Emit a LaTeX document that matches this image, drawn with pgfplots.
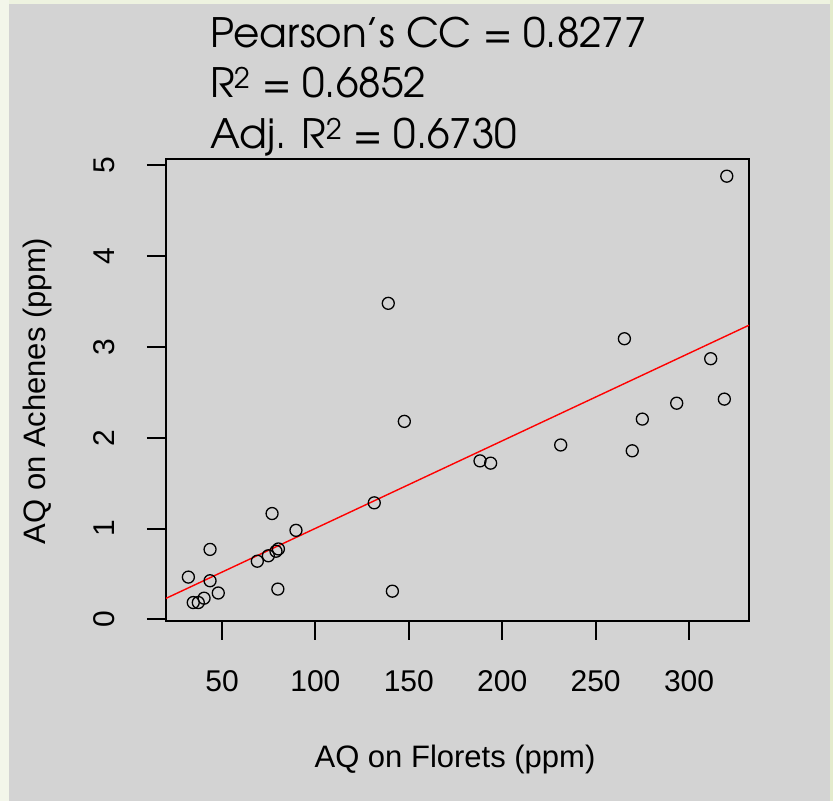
\documentclass[border=0pt]{standalone}
\usepackage{fontspec}
\setmainfont{Liberation Sans}
\newfontfamily\titlefont{TeX Gyre Adventor}
\usepackage{pgfplots}
\pgfplotsset{compat=1.18}
\definecolor{bggray}{HTML}{D3D3D3}
\definecolor{leftstrip}{HTML}{F3F6EA}
\definecolor{topstrip}{HTML}{EEF3E0}
\definecolor{rightstrip}{HTML}{E3EBCC}
\begin{document}
\begin{tikzpicture}[x=1pt,y=1pt]
\path[use as bounding box] (0,0) rectangle (833,801);
\fill[leftstrip] (0,0) rectangle (833,801);
\fill[topstrip] (9,797) rectangle (833,801);
\fill[rightstrip] (830,0) rectangle (833,801);
\fill[bggray] (9,0) rectangle (830,797);
\begin{axis}[
  at={(166pt,180.3pt)}, anchor=south west, scale only axis,
  width=583pt, height=461.4pt,
  xmin=20.02, xmax=332.1, ymin=-0.015, ymax=5.066,
  axis line style={line width=2pt, black},
  xtick={50,100,150,200,250,300}, ytick={0,1,2,3,4,5},
  xtick pos=left, ytick pos=left,
  tick align=outside, major tick length=19pt,
  every tick/.style={black, line width=2pt},
  /pgf/number format/assume math mode=true,
  ticklabel style={font=\fontsize{30}{36}\selectfont},
  xticklabel style={anchor=base, yshift=-51.3pt},
  yticklabel style={xshift=-32pt, rotate=90, anchor=base},
  xlabel={AQ on Florets (ppm)},
  ylabel={AQ on Achenes (ppm)},
  label style={font=\fontsize{31}{37}\selectfont},
  xlabel style={at={(axis description cs:0.4957,-0.3177)}, anchor=base},
  ylabel style={at={(axis description cs:-0.2075,0.4978)}, anchor=base},
  clip=true,
]
\addplot[only marks, mark=o, mark size=6pt, mark options={line width=1.3pt, black}] table {
x y
139.0 3.48
320.2 4.88
265.4 3.09
311.6 2.87
188.1 1.745
193.8 1.72
231.3 1.92
269.6 1.856
275.0 2.205
293.4 2.38
318.9 2.425
147.6 2.18
131.5 1.283
76.8 1.165
89.6 0.98
68.9 0.64
74.8 0.70
78.9 0.75
80.2 0.775
43.6 0.77
32.0 0.465
43.6 0.425
48.0 0.29
79.9 0.333
141.2 0.31
34.6 0.185
37.3 0.185
40.4 0.233
};
\addplot[red, line width=1.4pt] coordinates {(20.02,0.231) (332.1,3.239)};
\end{axis}
\node[anchor=base west, font=\titlefont\fontsize{40.5}{48}\selectfont, inner sep=0pt] at (210,753.3) {Pearson’s CC = 0.8277};
\node[anchor=base west, font=\titlefont\fontsize{40.5}{48}\selectfont, inner sep=0pt] at (210,703.3) {R\textsuperscript{2} = 0.6852};
\node[anchor=base west, font=\titlefont\fontsize{40.5}{48}\selectfont, inner sep=0pt] at (210,652) {Adj. R\textsuperscript{2} = 0.6730};
\end{tikzpicture}
\end{document}
